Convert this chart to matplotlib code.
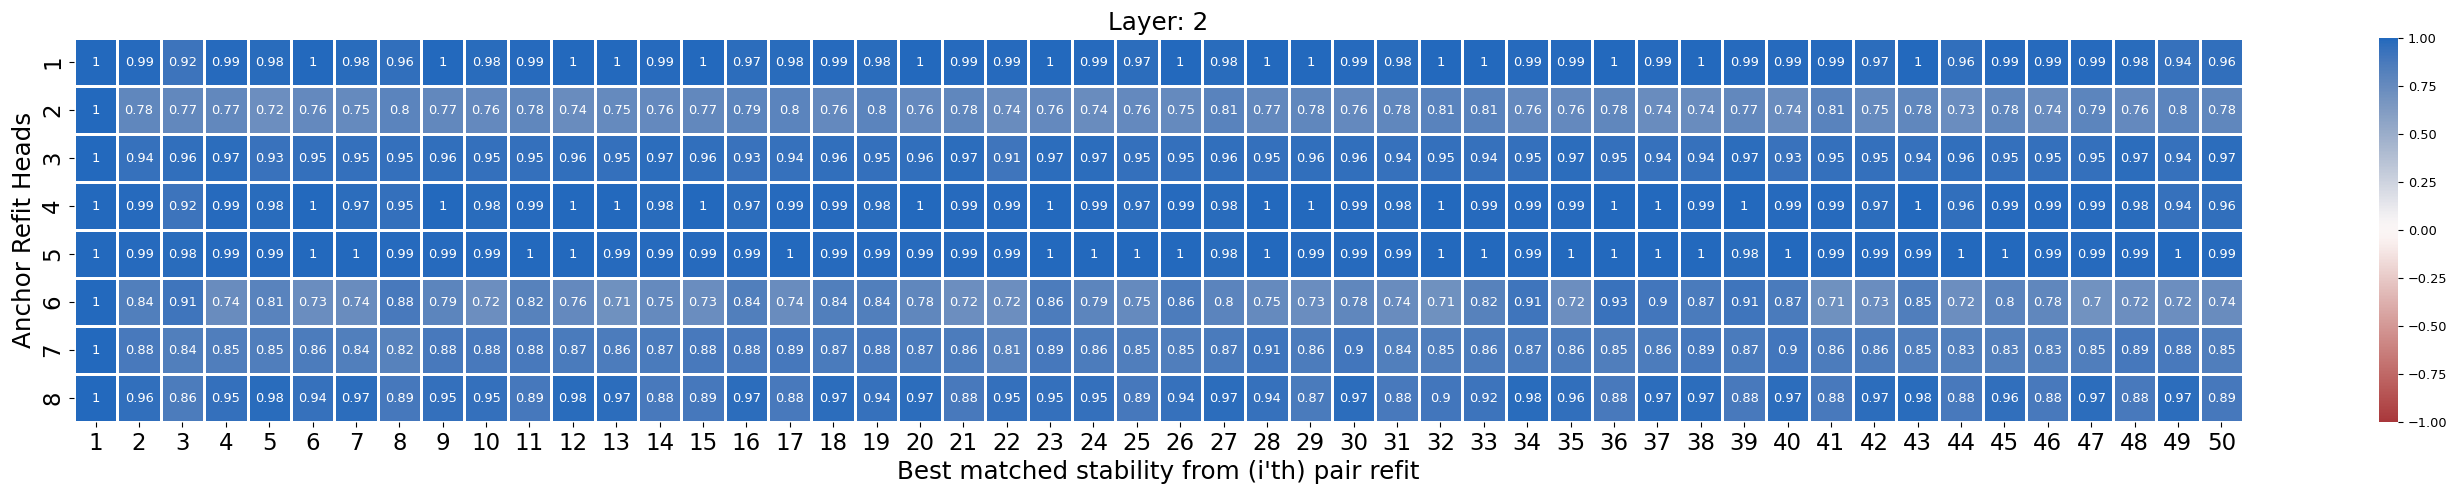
import matplotlib
matplotlib.use("Agg")
import matplotlib.pyplot as plt
import seaborn as sns
import numpy as np

row_labels = [str(i) for i in range(1, 9)]
col_labels = [str(i) for i in range(1, 51)]

head1 = [1, 0.99, 0.92, 0.99, 0.98, 1, 0.98, 0.96, 1, 0.98,
         0.99, 1, 1, 0.99, 1, 0.97, 0.98, 0.99, 0.98, 1,
         0.99, 0.99, 1, 0.99, 0.97, 1, 0.98, 1, 1, 0.99,
         0.98, 1, 1, 0.99, 0.99, 1, 0.99, 1, 0.99, 0.99,
         0.99, 0.97, 1, 0.96, 0.99, 0.99, 0.99, 0.98, 0.94, 0.96]
head2 = [1, 0.78, 0.77, 0.77, 0.72, 0.76, 0.75, 0.8, 0.77, 0.76,
         0.78, 0.74, 0.75, 0.76, 0.77, 0.79, 0.8, 0.76, 0.8, 0.76,
         0.78, 0.74, 0.76, 0.74, 0.76, 0.75, 0.81, 0.77, 0.78, 0.76,
         0.78, 0.81, 0.81, 0.76, 0.76, 0.78, 0.74, 0.74, 0.77, 0.74,
         0.81, 0.75, 0.78, 0.73, 0.78, 0.74, 0.79, 0.76, 0.8, 0.78]
head3 = [1, 0.94, 0.96, 0.97, 0.93, 0.95, 0.95, 0.95, 0.96, 0.95,
         0.95, 0.96, 0.95, 0.97, 0.96, 0.93, 0.94, 0.96, 0.95, 0.96,
         0.97, 0.91, 0.97, 0.97, 0.95, 0.95, 0.96, 0.95, 0.96, 0.96,
         0.94, 0.95, 0.94, 0.95, 0.97, 0.95, 0.94, 0.94, 0.97, 0.93,
         0.95, 0.95, 0.94, 0.96, 0.95, 0.95, 0.95, 0.97, 0.94, 0.97]
head4 = [1, 0.99, 0.92, 0.99, 0.98, 1, 0.97, 0.95, 1, 0.98,
         0.99, 1, 1, 0.98, 1, 0.97, 0.99, 0.99, 0.98, 1,
         0.99, 0.99, 1, 0.99, 0.97, 0.99, 0.98, 1, 1, 0.99,
         0.98, 1, 0.99, 0.99, 0.99, 1, 1, 0.99, 1, 0.99,
         0.99, 0.97, 1, 0.96, 0.99, 0.99, 0.99, 0.98, 0.94, 0.96]
head5 = [1, 0.99, 0.98, 0.99, 0.99, 1, 1, 0.99, 0.99, 0.99,
         1, 1, 0.99, 0.99, 0.99, 0.99, 1, 0.99, 0.99, 0.99,
         0.99, 0.99, 1, 1, 1, 1, 0.98, 1, 0.99, 0.99,
         0.99, 1, 1, 0.99, 1, 1, 1, 1, 0.98, 1,
         0.99, 0.99, 0.99, 1, 1, 0.99, 0.99, 0.99, 1, 0.99]
head6 = [1, 0.84, 0.91, 0.74, 0.81, 0.73, 0.74, 0.88, 0.79, 0.72,
         0.82, 0.76, 0.71, 0.75, 0.73, 0.84, 0.74, 0.84, 0.84, 0.78,
         0.72, 0.72, 0.86, 0.79, 0.75, 0.86, 0.8, 0.75, 0.73, 0.78,
         0.74, 0.71, 0.82, 0.91, 0.72, 0.93, 0.9, 0.87, 0.91, 0.87,
         0.71, 0.73, 0.85, 0.72, 0.8, 0.78, 0.7, 0.72, 0.72, 0.74]
head7 = [1, 0.88, 0.84, 0.85, 0.85, 0.86, 0.84, 0.82, 0.88, 0.88,
         0.88, 0.87, 0.86, 0.87, 0.88, 0.88, 0.89, 0.87, 0.88, 0.87,
         0.86, 0.81, 0.89, 0.86, 0.85, 0.85, 0.87, 0.91, 0.86, 0.9,
         0.84, 0.85, 0.86, 0.87, 0.86, 0.85, 0.86, 0.89, 0.87, 0.9,
         0.86, 0.86, 0.85, 0.83, 0.83, 0.83, 0.85, 0.89, 0.88, 0.85]
head8 = [1, 0.96, 0.86, 0.95, 0.98, 0.94, 0.97, 0.89, 0.95, 0.95,
         0.89, 0.98, 0.97, 0.88, 0.89, 0.97, 0.88, 0.97, 0.94, 0.97,
         0.88, 0.95, 0.95, 0.95, 0.89, 0.94, 0.97, 0.94, 0.87, 0.97,
         0.88, 0.9, 0.92, 0.98, 0.96, 0.88, 0.97, 0.97, 0.88, 0.97,
         0.88, 0.97, 0.98, 0.88, 0.96, 0.88, 0.97, 0.88, 0.97, 0.89]

data = np.array([head1, head2, head3, head4, head5, head6, head7, head8])
cbar_ticks = [-1, -0.75, -0.5, -0.25, 0, 0.25, 0.5, 0.75, 1]

W, H = 2460, 495
fig = plt.figure(figsize=(W / 100, H / 100), dpi=100)
ax = fig.add_axes([74 / W, (H - 422) / H, (2243 - 74) / W, (422 - 38) / H])
cax = fig.add_axes([2379 / W, (H - 422) / H, 19 / W, (422 - 38) / H])

sns.heatmap(data, ax=ax, cbar_ax=cax, cmap="vlag_r", vmin=-1, vmax=1,
            annot=True, fmt=".2g", annot_kws={"size": 9.4},
            linewidths=0.75, linecolor="white",
            xticklabels=col_labels, yticklabels=row_labels)

ax.set_title("Layer: 2", fontsize=17.7)
ax.set_xlabel("Best matched stability from (i'th) pair refit", fontsize=17.7)
ax.set_ylabel("Anchor Refit Heads", fontsize=17.7)
ax.tick_params(axis="x", labelsize=16.5, rotation=0)
ax.tick_params(axis="y", labelsize=16.5, rotation=90)
for t in ax.get_yticklabels():
    t.set_va("center")
cax.set_yticks(cbar_ticks)
cax.set_yticklabels([f"{v:.2f}".replace("-", "\u2212") for v in cbar_ticks])
cax.tick_params(labelsize=9.3)

fig.savefig("out.png", dpi=100)
